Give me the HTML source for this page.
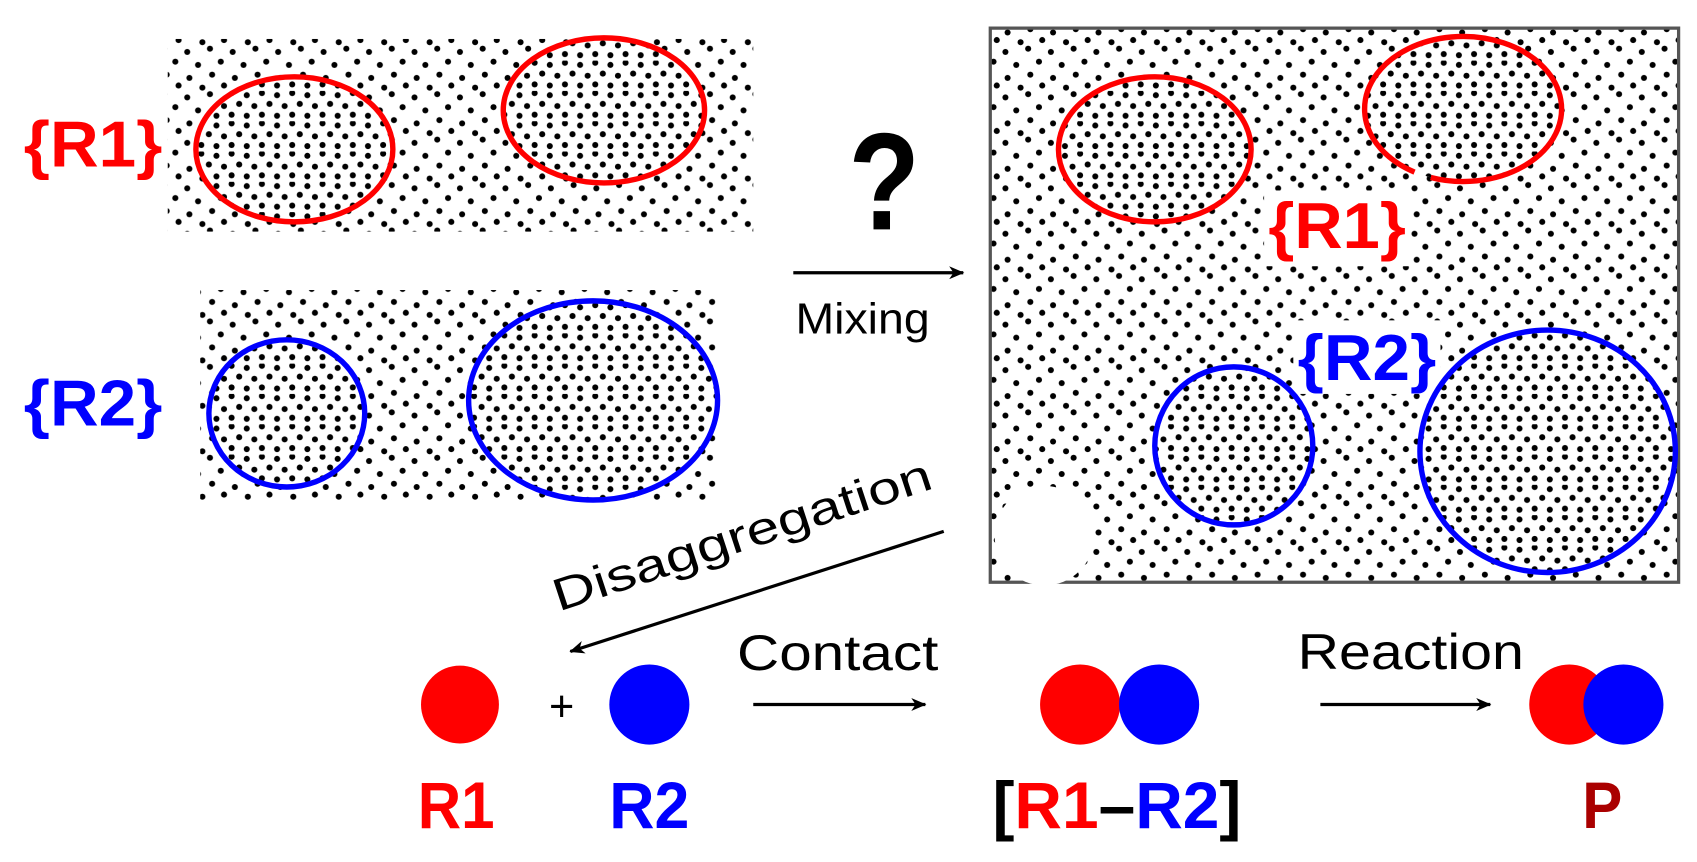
<!DOCTYPE html>
<html><head><meta charset="utf-8"><style>
html,body{margin:0;padding:0;background:#fff;}
svg{display:block;}
text{font-family:"Liberation Sans",Arial,sans-serif;}
</style></head><body>
<svg width="1697" height="862" viewBox="0 0 1568 796.5" preserveAspectRatio="none" xmlns="http://www.w3.org/2000/svg">
<defs>
<pattern id="sp" width="42" height="42" patternUnits="userSpaceOnUse">
<circle cx="5" cy="6" r="2.8" fill="#000"/><circle cx="26" cy="3" r="2.8" fill="#000"/>
<circle cx="15" cy="18" r="2.8" fill="#000"/><circle cx="36" cy="15" r="2.8" fill="#000"/>
<circle cx="7" cy="30" r="2.8" fill="#000"/><circle cx="28" cy="27" r="2.8" fill="#000"/>
<circle cx="19" cy="39" r="2.8" fill="#000"/><circle cx="39" cy="37" r="2.8" fill="#000"/>
</pattern>
<pattern id="dp" width="28" height="28" patternUnits="userSpaceOnUse">
<circle cx="4" cy="4" r="2.8" fill="#000"/><circle cx="18" cy="2" r="2.8" fill="#000"/>
<circle cx="11" cy="14" r="2.8" fill="#000"/><circle cx="25" cy="12" r="2.8" fill="#000"/>
<circle cx="4" cy="23" r="2.8" fill="#000"/><circle cx="18" cy="22" r="2.8" fill="#000"/>
</pattern>
<marker id="ah" markerWidth="14" markerHeight="12" refX="13" refY="6" orient="auto" markerUnits="userSpaceOnUse">
<path d="M0,0 L14,6 L0,12 L4,6 Z" fill="#000"/></marker>
</defs>

<!-- top-left panel -->
<rect x="155" y="36" width="541" height="178" fill="url(#sp)"/>
<ellipse cx="272" cy="138" rx="91" ry="67" fill="#fff"/><ellipse cx="272" cy="138" rx="91" ry="67" fill="url(#dp)" stroke="#f00" stroke-width="5"/>
<ellipse cx="558" cy="102" rx="93" ry="67" fill="#fff"/><ellipse cx="558" cy="102" rx="93" ry="67" fill="url(#dp)" stroke="#f00" stroke-width="5"/>
<text x="22" y="154" font-size="60" font-weight="bold" fill="#f00" textLength="128" lengthAdjust="spacingAndGlyphs">{R1}</text>

<!-- second panel -->
<rect x="185" y="268" width="476" height="194" fill="url(#sp)"/>
<ellipse cx="265" cy="382" rx="72" ry="68" fill="#fff"/><ellipse cx="265" cy="382" rx="72" ry="68" fill="url(#dp)" stroke="#00f" stroke-width="5"/>
<ellipse cx="548" cy="370" rx="115" ry="92" fill="#fff"/><ellipse cx="548" cy="370" rx="115" ry="92" fill="url(#dp)" stroke="#00f" stroke-width="5"/>
<text x="22" y="393" font-size="60" font-weight="bold" fill="#00f" textLength="128" lengthAdjust="spacingAndGlyphs">{R2}</text>

<!-- mixing -->
<text x="817" y="212" font-size="128" font-weight="bold" text-anchor="middle" textLength="66" lengthAdjust="spacingAndGlyphs">?</text>
<line x1="733" y1="252" x2="890" y2="252" stroke="#000" stroke-width="3" marker-end="url(#ah)"/>
<text x="797" y="308" font-size="40" text-anchor="middle" textLength="124" lengthAdjust="spacingAndGlyphs">Mixing</text>

<!-- right box -->
<rect x="915" y="26" width="636" height="512" fill="url(#sp)" stroke="#555" stroke-width="3"/>
<circle cx="965" cy="495" r="46" fill="#fff"/>
<rect x="1168" y="176" width="136" height="70" fill="#fff"/>
<rect x="1195" y="296" width="136" height="68" fill="#fff"/>
<ellipse cx="1067" cy="138" rx="89" ry="67" fill="#fff"/><ellipse cx="1067" cy="138" rx="89" ry="67" fill="url(#dp)" stroke="#f00" stroke-width="5"/>
<ellipse cx="1353" cy="101" rx="91" ry="67" fill="#fff"/>
<ellipse cx="1353" cy="101" rx="91" ry="67" fill="url(#dp)"/>
<path d="M1322,164 A91,67 0 1 0 1307,159" fill="none" stroke="#f00" stroke-width="5"/>
<text x="1172" y="229" font-size="60" font-weight="bold" fill="#f00" textLength="127" lengthAdjust="spacingAndGlyphs">{R1}</text>
<circle cx="1140" cy="412" r="73" fill="#fff"/><circle cx="1140" cy="412" r="73" fill="url(#dp)" stroke="#00f" stroke-width="5"/>
<ellipse cx="1430" cy="417" rx="118" ry="112" fill="#fff"/><ellipse cx="1430" cy="417" rx="118" ry="112" fill="url(#dp)" stroke="#00f" stroke-width="5"/>
<text x="1199" y="351" font-size="60" font-weight="bold" fill="#00f" textLength="128" lengthAdjust="spacingAndGlyphs">{R2}</text>

<!-- disaggregation -->
<line x1="872" y1="491" x2="527" y2="602" stroke="#000" stroke-width="3" marker-end="url(#ah)"/>
<text x="0" y="0" font-size="42" text-anchor="middle" transform="translate(690,508) rotate(-18.2)" textLength="366" lengthAdjust="spacingAndGlyphs">Disaggregation</text>

<!-- bottom -->
<circle cx="425" cy="651" r="36" fill="#f00"/>
<text x="519" y="666" font-size="40" text-anchor="middle">+</text>
<circle cx="600" cy="651" r="37" fill="#00f"/>
<line x1="696" y1="651" x2="855" y2="651" stroke="#000" stroke-width="3" marker-end="url(#ah)"/>
<text x="681" y="619" font-size="46" textLength="186" lengthAdjust="spacingAndGlyphs">Contact</text>
<circle cx="998" cy="651" r="37" fill="#f00"/>
<circle cx="1071" cy="651" r="37" fill="#00f"/>
<line x1="1220" y1="651" x2="1377" y2="651" stroke="#000" stroke-width="3" marker-end="url(#ah)"/>
<text x="1199" y="618" font-size="46" textLength="209" lengthAdjust="spacingAndGlyphs">Reaction</text>
<circle cx="1450" cy="651" r="37" fill="#f00"/>
<circle cx="1500" cy="651" r="37" fill="#00f"/>

<text x="386" y="765" font-size="61" font-weight="bold" fill="#f00" textLength="71" lengthAdjust="spacingAndGlyphs">R1</text>
<text x="563" y="765" font-size="61" font-weight="bold" fill="#00f" textLength="74" lengthAdjust="spacingAndGlyphs">R2</text>
<text x="917" y="765" font-size="61" font-weight="bold" textLength="230" lengthAdjust="spacingAndGlyphs">[<tspan fill="#f00">R1</tspan>–<tspan fill="#00f">R2</tspan>]</text>
<text x="1462" y="765" font-size="61" font-weight="bold" fill="#a00" textLength="37" lengthAdjust="spacingAndGlyphs">P</text>
</svg>
</body></html>
